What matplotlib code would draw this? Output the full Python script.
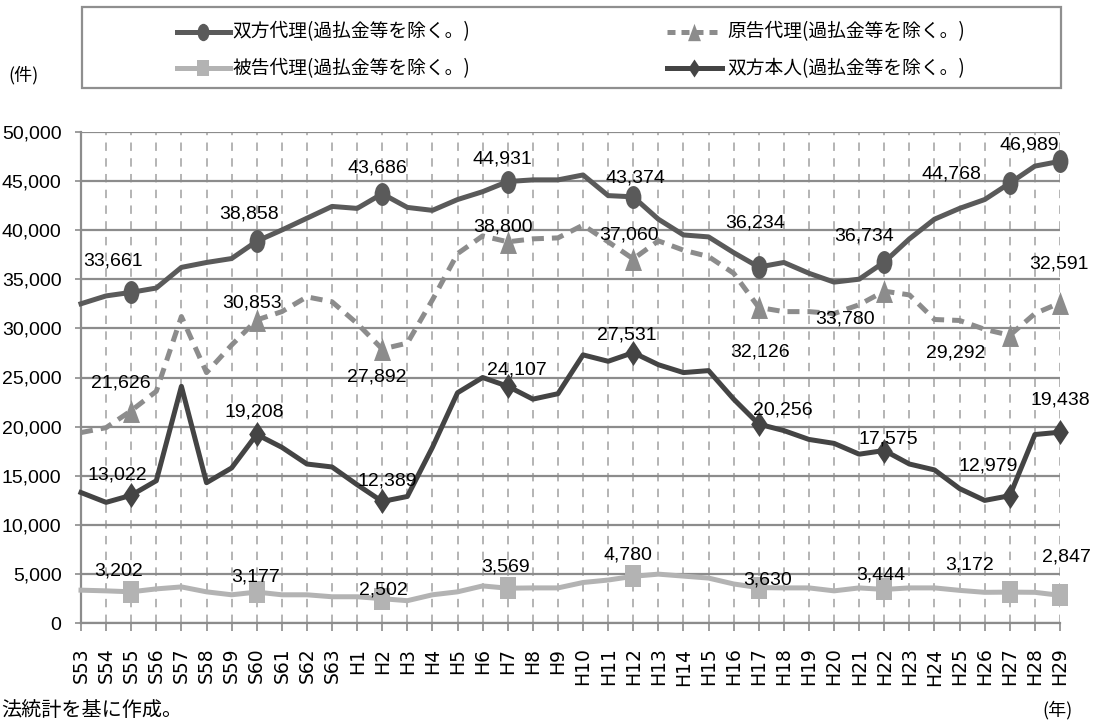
import matplotlib
matplotlib.use("Agg")
import matplotlib.pyplot as plt
from matplotlib import font_manager as fm
from matplotlib.path import Path
from matplotlib.transforms import Affine2D
from matplotlib.lines import Line2D

# ---------------- data ----------------
categories = (["S53", "S54", "S55", "S56", "S57", "S58", "S59", "S60", "S61", "S62", "S63"] +
              ["H%d" % i for i in range(1, 30)])

both_agent = [32500, 33300, 33661, 34100, 36200, 36700, 37100, 38858, 40000, 41200, 42400,
              42200, 43686, 42300, 42000, 43100, 43900, 44931, 45100, 45100, 45600, 43500,
              43374, 41100, 39500, 39300, 37700, 36234, 36700, 35600, 34700, 35000, 36734,
              39100, 41100, 42200, 43100, 44768, 46500, 46989]

plaintiff_agent = [19400, 19900, 21626, 23600, 31200, 25500, 28300, 30853, 31700, 33200, 32700,
                   30500, 27892, 28500, 32900, 37600, 39400, 38800, 39100, 39200, 40500, 38800,
                   37060, 38900, 37950, 37300, 35600, 32126, 31700, 31700, 31500, 32400, 33780,
                   33400, 30900, 30800, 29900, 29292, 31500, 32591]

defendant_agent = [3370, 3300, 3202, 3500, 3700, 3200, 2900, 3177, 2900, 2900, 2700,
                   2700, 2502, 2300, 2900, 3200, 3800, 3569, 3600, 3600, 4150, 4400,
                   4780, 5000, 4800, 4600, 4000, 3630, 3600, 3600, 3300, 3600, 3444,
                   3600, 3600, 3350, 3150, 3172, 3150, 2847]

both_self = [13300, 12300, 13022, 14500, 24100, 14300, 15800, 19208, 17900, 16200, 15900,
             14100, 12389, 12900, 17900, 23450, 25000, 24107, 22800, 23350, 27300, 26650,
             27531, 26300, 25500, 25700, 22800, 20256, 19600, 18700, 18300, 17200, 17575,
             16200, 15600, 13700, 12500, 12979, 19200, 19438]

labeled_categories = ["S55", "S60", "H2", "H7", "H12", "H17", "H22", "H27", "H29"]

series_names = ["双方代理(過払金等を除く。)", "原告代理(過払金等を除く。)",
                "被告代理(過払金等を除く。)", "双方本人(過払金等を除く。)"]

y_ticks = [0, 5000, 10000, 15000, 20000, 25000, 30000, 35000, 40000, 45000, 50000]

# ---------------- style ----------------
names = {f.name for f in fm.fontManager.ttflist}
NARROW = "Liberation Sans Narrow" if "Liberation Sans Narrow" in names else "Liberation Sans"
NUM_SIZE = 16 if NARROW == "Liberation Sans Narrow" else 14
CJK = "Noto Sans CJK JP"

c_both_agent = "#5a5a5a"
c_plaintiff = "#8c8c8c"
c_defendant = "#b3b3b3"
c_both_self = "#444444"
c_grid = "#8c8c8c"
c_vgrid = "#a0a0a0"

def stretched(path, sy):
    return path.transformed(Affine2D().scale(1, sy))

m_circle = stretched(Path.unit_circle(), 1.45)
m_square = stretched(Path([(-0.5, -0.5), (0.5, -0.5), (0.5, 0.5), (-0.5, 0.5), (-0.5, -0.5)],
                          [1, 2, 2, 2, 79]), 1.45)
m_tri = stretched(Path([(-0.5, -0.5), (0.5, -0.5), (0, 0.5), (-0.5, -0.5)], [1, 2, 2, 79]), 1.35)
m_dia = stretched(Path([(0, -0.5), (0.5, 0), (0, 0.5), (-0.5, 0), (0, -0.5)], [1, 2, 2, 2, 79]), 1.5)

W, H = 1096, 723
fig = plt.figure(figsize=(W / 100, H / 100), dpi=100)
fig.patch.set_facecolor("white")

ax_l, ax_r, ax_t, ax_b = 81, 1060, 131.7, 623.3
ax = fig.add_axes([ax_l / W, 1 - ax_b / H, (ax_r - ax_l) / W, (ax_b - ax_t) / H])

x = list(range(len(categories)))
mark_idx = [categories.index(c) for c in labeled_categories]

LW = 3.6
ax.plot(x, defendant_agent, color=c_defendant, lw=LW, marker=m_square, ms=15.8, mew=0,
        markevery=mark_idx, clip_on=False, zorder=3, solid_joinstyle="round")
ax.plot(x, both_self, color=c_both_self, lw=LW, marker=m_dia, ms=18, mew=0,
        markevery=mark_idx, clip_on=False, zorder=4, solid_joinstyle="round")
ax.plot(x, plaintiff_agent, color=c_plaintiff, lw=LW, ls=(0, (2.4, 1.6)), marker=m_tri, ms=16.5,
        mew=0, markevery=mark_idx, clip_on=False, zorder=5)
ax.plot(x, both_agent, color=c_both_agent, lw=LW, marker=m_circle, ms=16.5, mew=0,
        markevery=mark_idx, clip_on=False, zorder=6, solid_joinstyle="round")

ax.set_xlim(0, len(categories) - 1)
ax.set_ylim(0, 50000)
ax.set_yticks(y_ticks)
ax.set_yticklabels(["{:,}".format(v) for v in y_ticks], fontfamily=NARROW, fontsize=NUM_SIZE)
ax.set_xticks(x)
ax.set_xticklabels(categories, rotation=90, fontfamily="DejaVu Sans", fontsize=13.5,
                   va="top", ha="center")

ax.yaxis.grid(True, color=c_grid, lw=1.6, ls="-", zorder=1)
ax.xaxis.grid(True, color=c_vgrid, lw=1.1, ls=(0, (5.5, 4.8)), zorder=1)
ax.set_axisbelow(True)
for s in ["top", "right"]:
    ax.spines[s].set_visible(False)
for s in ["left", "bottom"]:
    ax.spines[s].set_color(c_grid)
    ax.spines[s].set_linewidth(1.6)
ax.tick_params(axis="y", length=4.5, width=1.2, color=c_grid, pad=9.5, labelcolor="black")
ax.tick_params(axis="x", length=6, width=1.2, color=c_grid, pad=11.5, labelcolor="black")

# ---------------- data labels (pixel offsets from the point) ----------------
off_both_agent = [(-18, 31), (-8, 27), (-5, 26), (-5, 23), (2, 19), (-4, 44), (-20, 26), (-58, 9), (-31, 16)]
off_plaintiff = [(-10, 28), (-5, 17), (-5, -28), (-5, 15), (-4, 24), (1, -45), (-39, -28), (-54, -18), (-1, 39)]
off_defendant = [(-13, 21), (-1, 15), (1, 9), (-2, 21), (-5, 21), (9, 8), (-4, 14), (-40, 27), (6, 38)]
off_both_self = [(-14, 20), (-2, 22), (5, 20), (9, 16), (-6, 18), (24, 14), (4, 12), (-22, 30), (0, 32)]

for vals, offs in [(both_agent, off_both_agent), (plaintiff_agent, off_plaintiff),
                   (defendant_agent, off_defendant), (both_self, off_both_self)]:
    for i, (dx, dy) in zip(mark_idx, offs):
        ax.annotate("{:,}".format(vals[i]), xy=(i, vals[i]), xytext=(dx, dy),
                    textcoords="offset pixels", ha="center", va="center",
                    fontfamily=NARROW, fontsize=NUM_SIZE, color="black",
                    zorder=10, annotation_clip=False)

# ---------------- legend (drawn as a framed box) ----------------
def fx(px):
    return px / W

def fy(py):
    return 1 - py / H

box = plt.Rectangle((fx(81.7), fy(88)), fx(1060.7) - fx(81.7), fy(6.7) - fy(88),
                    transform=fig.transFigure, fill=False, edgecolor="#8f8f8f", lw=1.6)
fig.add_artist(box)

legend_items = [
    (series_names[0], c_both_agent, "-", m_circle, 12.5, 176.7, 230, 232.7, 31.7),
    (series_names[1], c_plaintiff, (0, (1.6, 1.2)), m_tri, 12.5, 666.7, 721, 727, 31.7),
    (series_names[2], c_defendant, "-", m_square, 12, 176.7, 230, 232.7, 68.3),
    (series_names[3], c_both_self, "-", m_dia, 13, 666.7, 721.7, 727, 68.3),
]
for name, col, ls, mk, ms, x0, x1, tx, yy in legend_items:
    ln = Line2D([fx(x0), fx((x0 + x1) / 2), fx(x1)], [fy(yy)] * 3, transform=fig.transFigure,
                color=col, lw=3.6, ls=ls, marker=mk, ms=ms, mew=0, markevery=[1])
    fig.add_artist(ln)
    fig.text(fx(tx), fy(yy), name, fontfamily=CJK, fontsize=13.5, ha="left", va="center",
             color="black")

# ---------------- other texts ----------------
fig.text(fx(23), fy(75), "(件)", fontfamily=CJK, fontsize=13, ha="center", va="center")
fig.text(fx(1057.5), fy(710), "(年)", fontfamily=CJK, fontsize=13, ha="center", va="center")
fig.text(fx(1), fy(711), "法統計を基に作成。", fontfamily=CJK, fontsize=14.5, ha="left",
         va="center")

fig.savefig("out.png", dpi=100, facecolor="white")
